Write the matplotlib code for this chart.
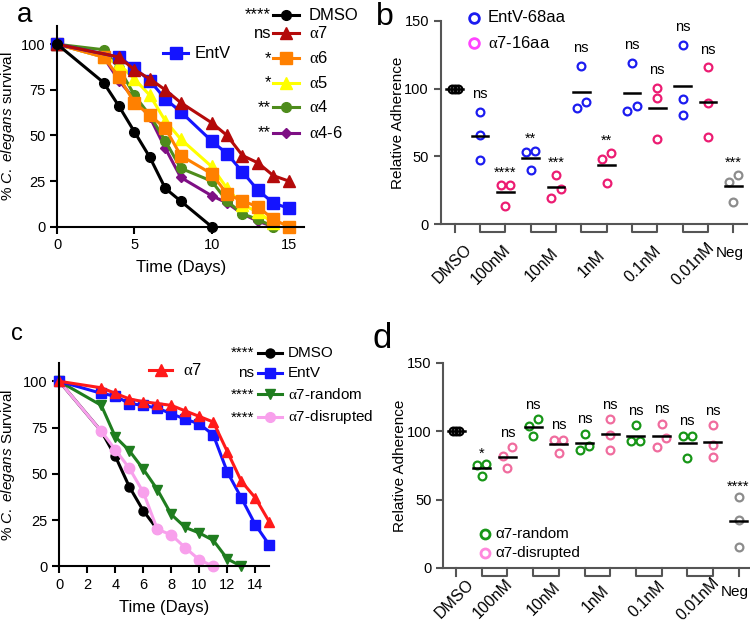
import numpy as np
import matplotlib
matplotlib.use('Agg')
import matplotlib.pyplot as plt
from matplotlib.lines import Line2D

plt.rcParams['font.family'] = 'Liberation Sans'
plt.rcParams['mathtext.fontset'] = 'custom'
plt.rcParams['mathtext.rm'] = 'Liberation Serif'
plt.rcParams['mathtext.it'] = 'Liberation Sans:italic'

W, H = 750, 626
AL = r'$\mathrm{\alpha}$'

# ---- panel a: survival with alpha-helix peptides
a_dmso_days = [0, 3, 4, 5, 6, 7, 8, 10]
a_dmso = [100, 79, 66, 52, 38, 21, 14, 0]
a_entv_days = [0, 4, 5, 6, 7, 8, 10, 11, 12, 13, 14, 15]
a_entv = [100, 93, 87, 80, 70, 63, 47, 40, 30, 20, 13, 10]
a_a7_days = [0, 4, 5, 6, 7, 8, 10, 11, 12, 13, 14, 15]
a_a7 = [100, 93, 86, 81, 75, 68, 57, 50, 39, 35, 28, 25]
a_a6_days = [0, 3, 4, 5, 6, 7, 8, 10, 11, 12, 13, 14, 15]
a_a6 = [100, 93, 82, 68, 61, 54, 39, 29, 18, 14, 11, 4, 0]
a_a5_days = [0, 3, 4, 5, 6, 7, 8, 10, 11, 12, 13, 14]
a_a5 = [100, 93, 89, 81, 72, 58, 48, 33, 21, 12, 8, 2]
a_a4_days = [0, 3, 4, 5, 6, 7, 8, 10, 11, 12, 13, 14]
a_a4 = [100, 97, 87, 72, 61, 47, 32, 25, 14, 7, 4, 0]
a_a46_days = [0, 3, 4, 5, 6, 7, 8, 10, 11, 12, 13, 14]
a_a46 = [100, 93, 80, 70, 60, 43, 27, 17, 13, 7, 3, 0]

# ---- panel c: survival with alpha7 variants
c_dmso_days = [0, 3, 4, 5, 6, 7]
c_dmso = [100, 73, 59.5, 43, 30, 20]
c_entv_days = [0, 3, 4, 5, 6, 7, 8, 9, 10, 11, 12, 13, 14, 15]
c_entv = [100, 93.5, 92, 88, 87, 85.5, 82.5, 79.5, 77, 71, 51, 37, 22.5, 11.5]
c_a7_days = [0, 3, 4, 5, 6, 7, 8, 9, 10, 11, 12, 13, 14, 15]
c_a7 = [100, 96.5, 93.5, 90.5, 89, 88, 87, 84, 81, 78, 62, 46, 37, 24]
c_rand_days = [0, 3, 4, 5, 6, 7, 8, 9, 10, 11, 12, 13]
c_rand = [100, 87, 70, 62.5, 52.5, 41.5, 28, 21, 18, 14, 4, 0]
c_disr_days = [0, 3, 4, 5, 6, 7, 8, 9, 10, 11]
c_disr = [100, 73, 63, 53, 40, 20, 17, 10, 3.5, 0]

# ---- panels b, d: adherence
conc = ['100nM', '10nM', '1nM', '0.1nM', '0.01nM']
dmso_adh = [100, 100, 100]

b_entv = [[82.7, 65.8, 47.4], [54, 53.3, 40], [116.9, 90.4, 86],
          [119, 87.2, 83.5], [132.3, 92.6, 80.3]]
b_a7 = [[28.7, 28.7, 13.7], [36.3, 26, 19.6], [52.3, 48.1, 30.4],
        [100.7, 93, 62.9], [115.6, 89.1, 64.6]]
b_neg = [36.3, 31.4, 16.7]
b_sig_entv = ['ns', '**', 'ns', 'ns', 'ns']
b_sig_a7 = ['****', '***', '**', 'ns', 'ns']
b_sig_neg = '***'

d_rand = [[76.3, 75.1, 67], [109, 103.7, 96.3], [98.3, 89, 86.6],
          [104.4, 92.7, 92.7], [96.8, 96.3, 80.2]]
d_disr = [[88.3, 82.2, 73.2], [93.9, 93.4, 84.1], [109, 97.6, 86.6],
          [105.6, 95.4, 88.5], [104.4, 90.2, 81.2]]
d_neg = [52, 34.9, 15.1]
d_sig_rand = ['*', 'ns', 'ns', 'ns', 'ns']
d_sig_disr = ['ns', 'ns', 'ns', 'ns', 'ns']
d_sig_neg = '****'


def fx(x):
    return x / W


def fy(y):
    return 1 - y / H


def style(ax, col='black'):
    for s in ['top', 'right']:
        ax.spines[s].set_visible(False)
    for s in ['left', 'bottom']:
        ax.spines[s].set_linewidth(1.5)
        ax.spines[s].set_color(col)
    ax.tick_params(direction='out', length=5, width=1.5, labelsize=10.5,
                   color=col, labelcolor='black')


def legend_row(fig, x0, x1, y, color, marker, ms, label, tx, sig=None, sx=None, fs=10.5):
    fig.add_artist(Line2D([fx(x0), fx(x1)], [fy(y), fy(y)], color=color, lw=2.2,
                          transform=fig.transFigure))
    fig.add_artist(Line2D([fx((x0 + x1) / 2)], [fy(y)], color=color, marker=marker, ms=ms,
                          transform=fig.transFigure))
    fig.text(fx(tx), fy(y), label, fontsize=fs, va='center', ha='left')
    if sig is not None:
        fig.text(fx(sx), fy(y), sig, fontsize=fs, va='center', ha='right')


def offsets(vals, thr=7, w=0.36):
    vals = np.asarray(vals, float)
    order = np.argsort(vals)
    offs = np.zeros(len(vals))
    groups = [[order[0]]]
    for k in order[1:]:
        if vals[k] - vals[groups[-1][-1]] < thr:
            groups[-1].append(k)
        else:
            groups.append([k])
    for g in groups:
        for j, k in enumerate(g):
            offs[k] = (j - (len(g) - 1) / 2) * w
    return offs


def dots(ax, x, vals, color, w=0.36):
    offs = offsets(vals, w=w)
    ax.plot(x + offs, vals, 'o', mfc='none', mec=color, mew=1.6, ms=5.6,
            clip_on=False, zorder=3)
    m = np.mean(vals)
    ax.plot([x - 0.33, x + 0.33], [m, m], color='black', lw=1.8, zorder=4)


def sig(ax, x, vals, label, ns_pad, star_pad):
    pad = ns_pad if label == 'ns' else star_pad
    ax.annotate(label, (x, max(vals)), xytext=(0, pad), textcoords='offset points',
                ha='center', va='baseline', fontsize=10.5, annotation_clip=False)


def cat_axis(ax, lab_off, neg_off, height_px, col):
    # labels centred below each tick / bracket, rotated like the original
    pos = [0] + [1.5 + 2 * i for i in range(len(conc))] + [11]
    labels = ['DMSO'] + conc + ['Neg']
    ax.set_xticks([])
    trans = ax.get_xaxis_transform()
    for p, lab in zip(pos, labels):
        neg = lab == 'Neg'
        ax.annotate(lab, (p, 0), xycoords=trans,
                    xytext=(-4 if neg else -2, -(neg_off if neg else lab_off)),
                    textcoords='offset pixels', ha='center', va='center',
                    rotation=0 if neg else 45, rotation_mode='anchor',
                    fontsize=11 if neg else 11.5, annotation_clip=False)
    d = 8 / height_px
    for i in range(len(conc)):
        x0, x1 = 1 + 2 * i, 2 + 2 * i
        ax.plot([x0, x0, x1, x1], [0, -d, -d, 0], transform=trans, color=col,
                lw=1.5, clip_on=False)
    for x in [0, 11]:
        ax.plot([x, x], [0, -d], transform=trans, color=col, lw=1.5, clip_on=False)


fig = plt.figure(figsize=(7.5, 6.26), dpi=100)

# ================= panel a
ax = fig.add_axes([0.0764, 0.6379, 0.3292, 0.3205])
style(ax)
series_a = [
    (a_a46_days, a_a46, '#7e0f84', 'D', 5),
    (a_a4_days, a_a4, '#4e8c1c', 'o', 7),
    (a_a5_days, a_a5, '#ffff00', '^', 8),
    (a_a6_days, a_a6, '#ff8000', 's', 8),
    (a_entv_days, a_entv, '#1414ff', 's', 8.5),
    (a_a7_days, a_a7, '#b40a0a', '^', 8),
    (a_dmso_days, a_dmso, 'black', 'o', 7),
]
for days, vals, col, mk, ms in series_a:
    ax.plot(days, vals, color=col, marker=mk, ms=ms, lw=2.2, clip_on=False)
ax.set_xlim(0, 16)
ax.set_ylim(0, 110)
ax.set_xticks([0, 5, 10, 15])
ax.set_yticks([0, 25, 50, 75, 100])
ax.set_xlabel('Time (Days)', fontsize=12)
ax.xaxis.set_label_coords(0.5, -0.165)
ax.xaxis.label.set_va('top')
ax.set_ylabel(r'% $\mathit{C.\ elegans}$ survival', fontsize=11)
ax.yaxis.set_label_coords(-0.163, 0.5)

rows_a = [('DMSO', '****', 'black', 'o', 7, 15),
          (AL + '7', 'ns', '#b40a0a', '^', 8, 33.3),
          (AL + '6', '*', '#ff8000', 's', 8, 58.3),
          (AL + '5', '*', '#ffff00', '^', 8, 82.7),
          (AL + '4', '**', '#4e8c1c', 'o', 7, 107.3),
          (AL + '4-6', '**', '#7e0f84', 'D', 5, 132.7)]
for lab, s, col, mk, ms, y in rows_a:
    legend_row(fig, 273, 299, y, col, mk, ms, lab, 309, s, 271, fs=12)
legend_row(fig, 163, 188, 53, '#1414ff', 's', 8.5, 'EntV', 195, fs=12)

# ================= panel b
ax = fig.add_axes([0.5876, 0.6417, 0.4087, 0.3252])
gc = '#555555'
style(ax, gc)
dots(ax, 0, dmso_adh, 'black', w=0.12)
for i in range(len(conc)):
    dots(ax, 1 + 2 * i, b_entv[i], '#1c1cf0')
    dots(ax, 2 + 2 * i, b_a7[i], '#ec1c72')
    sig(ax, 1 + 2 * i, b_entv[i], b_sig_entv[i], 10, 6)
    sig(ax, 2 + 2 * i, b_a7[i], b_sig_a7[i], 10, 6)
dots(ax, 11, b_neg, '#8c8c8c')
sig(ax, 11, b_neg, b_sig_neg, 10, 6)
ax.set_xlim(-0.55, 11.55)
ax.set_ylim(0, 150)
ax.set_yticks([0, 50, 100, 150])
cat_axis(ax, 40, 29, 203.6, gc)
ax.set_ylabel('Relative Adherence', fontsize=11)
ax.yaxis.set_label_coords(-0.1165, 0.5)
for y, col, lab in [(18, '#1c1cf0', 'EntV-68aa'), (43, '#ff44ff', AL + '7-16aa')]:
    fig.add_artist(Line2D([fx(474)], [fy(y)], marker='o', mfc='none', mec=col, mew=2,
                          ms=7, transform=fig.transFigure))
    fig.text(fx(488), fy(y), lab, fontsize=12, va='center')

# ================= panel c
ax = fig.add_axes([0.0791, 0.0954, 0.28, 0.325])
style(ax)
series_c = [
    (c_dmso_days, c_dmso, 'black', 'o', 6.5),
    (c_disr_days, c_disr, '#f8a0ec', 'o', 7.5),
    (c_rand_days, c_rand, '#1f7d1f', 'v', 7),
    (c_entv_days, c_entv, '#1414ff', 's', 7.5),
    (c_a7_days, c_a7, '#ff1a1a', '^', 7),
]
for days, vals, col, mk, ms in series_c:
    ax.plot(days, vals, color=col, marker=mk, ms=ms, lw=2.2, clip_on=False)
ax.set_xlim(0, 15)
ax.set_ylim(0, 110)
ax.set_xticks(range(0, 15, 2))
ax.set_yticks([0, 25, 50, 75, 100])
ax.set_xlabel('Time (Days)', fontsize=12)
ax.xaxis.set_label_coords(0.5, -0.167)
ax.xaxis.label.set_va('top')
ax.set_ylabel(r'% $\mathit{C.\ elegans}$ Survival', fontsize=11)
ax.yaxis.set_label_coords(-0.2, 0.5)

rows_c = [('DMSO', '****', 'black', 'o', 6.5, 352.7),
          ('EntV', 'ns', '#1414ff', 's', 7, 373.3),
          (AL + '7-random', '****', '#1f7d1f', 'v', 6.5, 394.3),
          (AL + '7-disrupted', '****', '#f8a0ec', 'o', 7, 417.3)]
for lab, s, col, mk, ms, y in rows_c:
    legend_row(fig, 258, 282, y, col, mk, ms, lab, 288, s, 254, fs=11)
legend_row(fig, 149, 172, 370.3, '#ff1a1a', '^', 8, AL + '7', 183, fs=12)

# ================= panel d
ax = fig.add_axes([0.5911, 0.0927, 0.4107, 0.3275])
style(ax, gc)
dots(ax, 0, dmso_adh, 'black', w=0.12)
for i in range(len(conc)):
    dots(ax, 1 + 2 * i, d_rand[i], '#179617')
    dots(ax, 2 + 2 * i, d_disr[i], '#f06c9e')
    sig(ax, 1 + 2 * i, d_rand[i], d_sig_rand[i], 7.5, 4.5)
    sig(ax, 2 + 2 * i, d_disr[i], d_sig_disr[i], 7.5, 4.5)
dots(ax, 11, d_neg, '#8c8c8c')
sig(ax, 11, d_neg, d_sig_neg, 7.5, 4.5)
ax.set_xlim(-0.5, 11.5)
ax.set_ylim(0, 150)
ax.set_yticks([0, 50, 100, 150])
cat_axis(ax, 31, 24, 205, gc)
ax.set_ylabel('Relative Adherence', fontsize=11)
ax.yaxis.set_label_coords(-0.118, 0.5)
for y, col, lab in [(534, '#179617', 'α7-random'), (553, '#ff88dd', 'α7-disrupted')]:
    fig.add_artist(Line2D([fx(485)], [fy(y)], marker='o', mfc='none', mec=col, mew=2,
                          ms=6.5, transform=fig.transFigure))
    fig.text(fx(495), fy(y), lab, fontsize=11, va='center')

# panel letters
for lab, x, y, fs in [('a', 17, 22, 20), ('b', 376, 25, 23), ('c', 11, 339.7, 17),
                      ('d', 373, 348, 25)]:
    fig.text(fx(x), fy(y), lab, fontsize=fs, va='baseline', ha='left')

fig.savefig('out.png', dpi=100)
